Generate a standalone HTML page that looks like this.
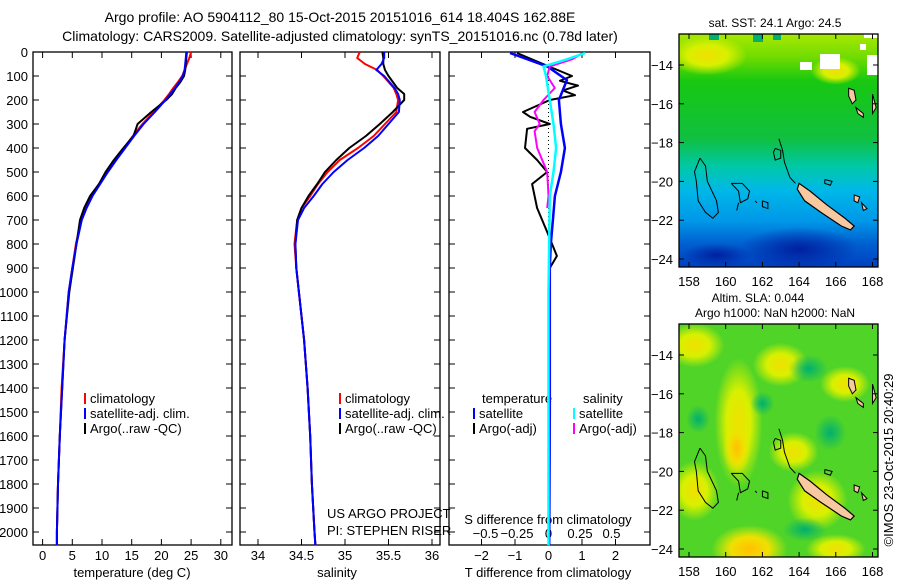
<!DOCTYPE html>
<html><head><meta charset="utf-8"><style>
body{margin:0;background:#fff}
svg{display:block;font-family:"Liberation Sans",sans-serif}
</style></head><body>
<svg id="fig" width="900" height="580" viewBox="0 0 900 580" xmlns="http://www.w3.org/2000/svg">
<defs>
<linearGradient id="sstg" x1="0" y1="0" x2="0" y2="1">
<stop offset="0" stop-color="#a8e800"/><stop offset="0.1" stop-color="#70dc00"/><stop offset="0.2" stop-color="#18c810"/><stop offset="0.45" stop-color="#10c040"/><stop offset="0.57" stop-color="#00c8a8"/><stop offset="0.67" stop-color="#00b8e8"/><stop offset="0.8" stop-color="#0098e8"/><stop offset="0.9" stop-color="#0060d0"/><stop offset="1" stop-color="#0040c0"/>
</linearGradient>
<radialGradient id="dk"><stop offset="0" stop-color="#0020a0"/><stop offset="1" stop-color="#0020a0" stop-opacity="0"/></radialGradient>
<radialGradient id="yb"><stop offset="0" stop-color="#f0e000"/><stop offset="0.5" stop-color="#d8f000"/><stop offset="1" stop-color="#d8f000" stop-opacity="0"/></radialGradient>
<radialGradient id="yo"><stop offset="0" stop-color="#ffc000"/><stop offset="0.5" stop-color="#f0e000"/><stop offset="1" stop-color="#e0f000" stop-opacity="0"/></radialGradient>
<radialGradient id="tb"><stop offset="0" stop-color="#00b070"/><stop offset="1" stop-color="#00b070" stop-opacity="0"/></radialGradient>
<clipPath id="c1"><rect x="679" y="34" width="199" height="233"/></clipPath>
<clipPath id="c2"><rect x="679" y="324" width="199" height="233"/></clipPath>
</defs>
<g id="titles">
<text x="340" y="22" font-size="14" text-anchor="middle">Argo profile: AO 5904112_80 15-Oct-2015 20151016_614 18.404S 162.88E</text>
<text x="340" y="41" font-size="14" text-anchor="middle">Climatology: CARS2009. Satellite-adjusted climatology: synTS_20151016.nc (0.78d later)</text>
</g>
<g id="axes"></g>
<g id="lines"></g>
<g id="maps"></g>
<text transform="translate(893,460) rotate(-90)" font-size="13" text-anchor="middle">©IMOS 23-Oct-2015 20:40:29</text>
</svg>
<script>
// ---- data ----
const depthT = [0,25,50,75,100,125,150,175,200,250,300,350,400,450,500,550,600,650,700,800,900,1000,1200,1400,1600,1800,2000,2055];
const tempClim = [25.0,24.7,24.3,23.9,23.5,22.8,22.0,21.3,20.5,18.7,16.8,15.2,13.7,12.2,10.8,9.5,8.3,7.3,6.5,5.6,5.0,4.4,3.7,3.2,2.9,2.6,2.4,2.4];
const tempSat = [24.2,24.1,24.0,23.9,23.6,23.0,22.3,21.5,20.7,18.9,17.0,15.4,13.9,12.4,11.0,9.7,8.4,7.4,6.6,5.7,5.0,4.4,3.7,3.3,2.9,2.6,2.4,2.4];
const tempArgo = [24.3,24.2,24.1,24.0,23.8,23.2,22.4,21.8,20.8,18.3,16.0,15.3,13.6,12.0,10.6,9.5,8.0,7.0,6.3,5.7,5.1,4.5,3.7,3.3,2.9,2.6,2.4,2.4];
const depthS = [0,25,50,75,100,150,175,200,250,300,350,400,450,500,550,600,650,700,800,900,1000,1200,1400,1600,1800,2000,2055];
const salClim = [35.17,35.14,35.23,35.37,35.44,35.56,35.59,35.61,35.59,35.46,35.33,35.15,34.94,34.80,34.69,34.60,34.50,34.45,34.42,34.44,34.47,34.53,34.57,34.60,34.62,34.65,34.66];
const salSat = [35.45,35.45,35.42,35.36,35.45,35.57,35.61,35.63,35.62,35.50,35.38,35.22,35.03,34.87,34.74,34.64,34.53,34.46,34.43,34.44,34.47,34.53,34.57,34.60,34.62,34.65,34.66];
const salArgo = [35.43,35.44,35.44,35.46,35.50,35.60,35.68,35.68,35.55,35.40,35.24,35.05,34.90,34.77,34.68,34.58,34.50,34.45,34.43,34.44,34.47,34.53,34.57,34.60,34.62,34.65,34.66];
const depthDTargo = [4,50,100,120,140,160,180,200,250,270,300,320,400,450,500,550,650,750,850,900,1000,2000];
const dTargo = [-0.94,-0.16,0.70,0.34,0.88,0.43,0.79,0.04,-0.76,-0.55,0.04,-0.64,-0.70,-0.34,-0.04,-0.49,-0.34,-0.04,0.25,0.04,0.0,0.0];
const depthDTsat = [4,60,117,200,300,400,500,600,700,800,900,1000,1500,2055];
const dTsat = [-1.15,-0.04,0.55,0.31,0.37,0.49,0.37,0.19,0.13,0.07,0.04,0.04,0.04,0.02];
const depthDSargo = [4,30,60,100,150,200,250,300,330,400,500,600,650];
const dSargo = [0.27,0.19,0.01,-0.01,0.05,-0.04,-0.11,-0.07,-0.11,-0.09,-0.01,0,-0.01];
const depthDSsat = [4,30,60,100,200,300,400,500,600,1000,2055];
const dSsat = [0.29,0.15,-0.04,-0.02,0.01,0.04,0.06,0.04,0.01,0,0];
const depthTicks = [0,100,200,300,400,500,600,700,800,900,1000,1100,1200,1300,1400,1500,1600,1700,1800,1900,2000];
const tempTicks = [0,5,10,15,20,25,30];
const salTicks = [34,34.5,35,35.5,36];
const dTTicks = [-2,-1,0,1,2];
const dSTicks = [-0.5,-0.25,0,0.25,0.5];
const latTicks = [-14,-16,-18,-20,-22,-24];
const lonTicks = [158,160,162,164,166,168];

// ---- scales ----
const yD = d => 52 + d*0.24;
const xT = t => 42.6 + 5.94*t;
const xS = s => 258 + 87*(s-34);
const xdT = t => 548.5 + 33.5*t;
const xdS = s => 548.5 + 126*s;
const mx = lon => 689 + (lon-158)*18.35;
const my = (lat,top) => top + 31 + (lat+14)*(-19.4);

const NS='http://www.w3.org/2000/svg';
function mk(tag, attrs, parent, txt){
  const e=document.createElementNS(NS,tag);
  for(const k in attrs) e.setAttribute(k,attrs[k]);
  if(txt!==undefined) e.textContent=txt;
  parent.appendChild(e); return e;
}
const axes=document.getElementById('axes');
const lines=document.getElementById('lines');
const maps=document.getElementById('maps');

const panels=[{x0:33,x1:232,n:'temperature'},{x0:240,x1:440,n:'salinity'},{x0:449,x1:650,n:'difference'}];
panels.forEach(p=>{
  const r=mk('rect',{x:p.x0,y:52,width:p.x1-p.x0,height:493,fill:'none',stroke:'#000','stroke-width':1.3},axes);
  
  
  depthTicks.forEach(d=>{
    mk('line',{x1:p.x0,x2:p.x0+6,y1:yD(d),y2:yD(d),stroke:'#000'},axes);
    mk('line',{x1:p.x1,x2:p.x1-6,y1:yD(d),y2:yD(d),stroke:'#000'},axes);
  });
});
depthTicks.forEach(d=>{
  const t=mk('text',{x:28,y:yD(d)+5,'font-size':13,'text-anchor':'end'},axes,String(d));
  
  
});
function xticks(vals, sc, labY, fmt){
  vals.forEach(v=>{
    const x=sc(v);
    mk('line',{x1:x,x2:x,y1:52,y2:58,stroke:'#000'},axes);
    mk('line',{x1:x,x2:x,y1:545,y2:539,stroke:'#000'},axes);
    const t=mk('text',{x:x,y:labY,'font-size':13,'text-anchor':'middle'},axes,fmt(v));
    
    
  });
}
const fm=v=>String(v).replace('-','\u2212');
xticks(tempTicks,xT,560,fm);
xticks(salTicks,xS,560,fm);
xticks(dTTicks,xdT,560,fm);
dSTicks.forEach(v=>{
  const t=mk('text',{x:xdS(v),y:538,'font-size':13,'text-anchor':'middle'},axes,fm(v));
  
  
});
const z=mk('line',{x1:548.5,x2:548.5,y1:52,y2:260,stroke:'#000','stroke-dasharray':'1,3'},axes);



const labels=[['temperature (deg C)',132,577,'x-axis-title-temperature'],['salinity',337,577,'x-axis-title-salinity'],['T difference from climatology',548,577,'x-axis-title-t-diff'],['S difference from climatology',548,524,'s-diff-title'],['US ARGO PROJECT',327,518,'project-label'],['PI: STEPHEN RISER',327,535,'pi-label']];
labels.forEach(l=>{
  const t=mk('text',{x:l[1],y:l[2],'font-size':13,'text-anchor':l[1]===327?'start':'middle'},axes,l[0]);
  
  
});

function legend(x,y,col,txt){
  mk('rect',{x:x,y:y-10,width:2,height:11,fill:col},axes);
  const t=mk('text',{x:x+6,y:y,'font-size':13},axes,txt);
  
  
}
[[84,'#f00','climatology'],[84,'#00f','satellite-adj. clim.'],[84,'#000','Argo(..raw -QC)']].forEach((l,i)=>legend(l[0],403+i*15,l[1],l[2]));
[[339,'#f00','climatology'],[339,'#00f','satellite-adj. clim.'],[339,'#000','Argo(..raw -QC)']].forEach((l,i)=>legend(l[0],403+i*15,l[1],l[2]));
const lt=mk('text',{x:482,y:403,'font-size':13},axes,'temperature');


const ls=mk('text',{x:583,y:403,'font-size':13},axes,'salinity');


legend(473,418,'#00f','satellite');legend(473,433,'#000','Argo(-adj)');
legend(573,418,'#0ff','satellite');legend(573,433,'#f0f','Argo(-adj)');

function series(ds,vs,sc,col,name,w){
  const pts=ds.map((d,i)=>sc(vs[i]).toFixed(1)+','+yD(d).toFixed(1)).join(' ');
  const pl=mk('polyline',{points:pts,fill:'none',stroke:col,'stroke-width':w||2,'stroke-linejoin':'round'},lines);
  
  
}
series(depthT,tempClim,xT,'#f00','temp-climatology-line');
series(depthT,tempArgo,xT,'#000','temp-argo-line');
series(depthT,tempSat,xT,'#00f','temp-satellite-line');
series(depthS,salClim,xS,'#f00','sal-climatology-line');
series(depthS,salArgo,xS,'#000','sal-argo-line');
series(depthS,salSat,xS,'#00f','sal-satellite-line');
series(depthDTargo,dTargo,xdT,'#000','tdiff-argo-line');
series(depthDTsat,dTsat,xdT,'#00f','tdiff-satellite-line',2.5);
series(depthDSargo,dSargo,xdS,'#f0f','sdiff-argo-line');
series(depthDSsat,dSsat,xdS,'#0ff','sdiff-satellite-line',2.5);

// ---- maps ----
function drawMap(top, kind, clip){
  const g=mk('g',{'clip-path':'url(#'+clip+')'},maps);
  
  
  if(kind==='sst'){
    mk('rect',{x:679,y:top,width:199,height:233,fill:'url(#sstg)'},g);
    mk('ellipse',{cx:mx(164),cy:my(-23.5,top),rx:60,ry:22,fill:'url(#dk)'},g);
    mk('ellipse',{cx:mx(159.5),cy:my(-23.8,top),rx:35,ry:12,fill:'url(#dk)'},g);
    mk('ellipse',{cx:mx(159),cy:my(-13.5,top),rx:40,ry:20,fill:'url(#yb)'},g);
    mk('ellipse',{cx:mx(166),cy:my(-14.3,top),rx:25,ry:14,fill:'url(#yb)'},g);
    [[753,34,8,4],[820,54,20,15],[800,62,12,8],[864,34,14,4],[867,55,11,20],[860,44,6,6]].forEach(r=>mk('rect',{x:r[0],y:r[1],width:r[2],height:r[3],fill:'#fff'},g));
    [[709,34,10,6],[753,34,10,8],[773,34,8,6]].forEach(r=>mk('rect',{x:r[0],y:r[1],width:r[2],height:r[3],fill:'#00b070'},g));
  } else {
    mk('rect',{x:679,y:top,width:199,height:233,fill:'#50d428'},g);
    [[160.7,-17.5,24,65,'yb'],[158.3,-13.5,30,22,'yb'],[161.3,-24,38,24,'yo'],[160.6,-18.8,14,28,'yo'],[165,-21.5,30,30,'yb'],[163,-14.5,28,22,'yb'],[158.3,-21,25,30,'yb'],[166,-24,30,15,'yb'],[166.5,-15.5,25,18,'yb'],[163.7,-19,25,20,'yb']].forEach(b=>mk('ellipse',{cx:mx(b[0]),cy:my(b[1],top),rx:b[2],ry:b[3],fill:'url(#'+b[4]+')'},g));
    [[164.5,-14.7,20,14],[165.7,-18,16,18],[158.5,-17.3,12,14],[164.3,-23,22,12],[162,-16.5,12,12]].forEach(b=>mk('ellipse',{cx:mx(b[0]),cy:my(b[1],top),rx:b[2],ry:b[3],fill:'url(#tb)'},g));
  }
  const nc=[[164.0,-20.1],[164.6,-20.5],[165.5,-21.2],[166.5,-21.9],[167.0,-22.3],[166.8,-22.5],[166.3,-22.3],[165.2,-21.6],[164.3,-21.0],[163.9,-20.4]];
  mk('polygon',{points:nc.map(p=>mx(p[0])+','+my(p[1],top)).join(' '),fill:'#f8c8a0',stroke:'#000','stroke-width':1.2},g);
  [[[166.7,-15.2],[167,-15.3],[167.1,-15.8],[166.9,-16],[166.7,-15.6]],[[167.1,-16.2],[167.5,-16.5],[167.5,-16.7],[167.2,-16.5]],[[168,-15.5],[168.2,-16.2],[168,-16.5]],[[167,-20.7],[167.3,-20.8],[167.2,-21.1],[167,-21]],[[167.4,-21.1],[167.7,-21.4],[167.5,-21.5]]].forEach(pg=>mk('polygon',{points:pg.map(p=>mx(p[0])+','+my(p[1],top)).join(' '),fill:'#f8c8a0',stroke:'#000','stroke-width':1},g));
  [[[158.6,-18.8],[158.9,-19.2],[159,-20],[159.5,-21],[159.6,-21.6],[159.3,-21.9],[158.9,-21.6],[158.5,-21],[158.4,-20],[158.3,-19.5],[158.6,-18.8]],
   [[160.3,-20.1],[160.9,-20.1],[161.3,-20.5],[161.2,-20.9],[160.8,-21.1],[160.7,-20.5],[160.3,-20.1]],
   [[162.9,-17.8],[163.1,-18.4],[163.2,-19],[163.5,-19.8],[163.8,-20.1]],
   [[162.7,-18.3],[163,-18.4],[163,-18.8],[162.7,-18.9],[162.6,-18.5],[162.7,-18.3]],
   [[162.0,-21.0],[162.3,-21.1],[162.3,-21.4],[162.0,-21.3],[162.0,-21.0]],
   [[165.4,-19.9],[165.8,-20.0],[165.7,-20.2],[165.4,-20.1],[165.4,-19.9]],
   [[160.7,-21.1],[160.6,-21.5]],[[161.6,-21.0],[161.7,-21.1]]].forEach(pl=>mk('polyline',{points:pl.map(p=>mx(p[0])+','+my(p[1],top)).join(' '),fill:'none',stroke:'#000','stroke-width':1},g));
  const fr=mk('rect',{x:679,y:top,width:199,height:233,fill:'none',stroke:'#000','stroke-width':1.3},maps);
  
  
  latTicks.forEach(l=>{
    const y=my(l,top);
    mk('line',{x1:679,x2:684,y1:y,y2:y,stroke:'#000'},maps);
    mk('line',{x1:878,x2:873,y1:y,y2:y,stroke:'#000'},maps);
    const t=mk('text',{x:673,y:y+5,'font-size':13,'text-anchor':'end'},maps,fm(l));
    
    
  });
  lonTicks.forEach(l=>{
    const x=mx(l);
    mk('line',{x1:x,x2:x,y1:top,y2:top+5,stroke:'#000'},maps);
    mk('line',{x1:x,x2:x,y1:top+233,y2:top+228,stroke:'#000'},maps);
    const t=mk('text',{x:x,y:top+252,'font-size':13,'text-anchor':'middle'},maps,String(l));
    
    
  });
}
drawMap(34,'sst','c1');
drawMap(324,'sla','c2');
[['sat. SST: 24.1 Argo: 24.5',775,27,'sst-map-title'],['Altim. SLA: 0.044',758,302,'sla-map-title'],['Argo h1000: NaN h2000: NaN',775,317,'sla-map-subtitle']].forEach(l=>{
  const t=mk('text',{x:l[1],y:l[2],'font-size':12,'text-anchor':'middle'},maps,l[0]);
  
  
});
</script>
</body></html>
